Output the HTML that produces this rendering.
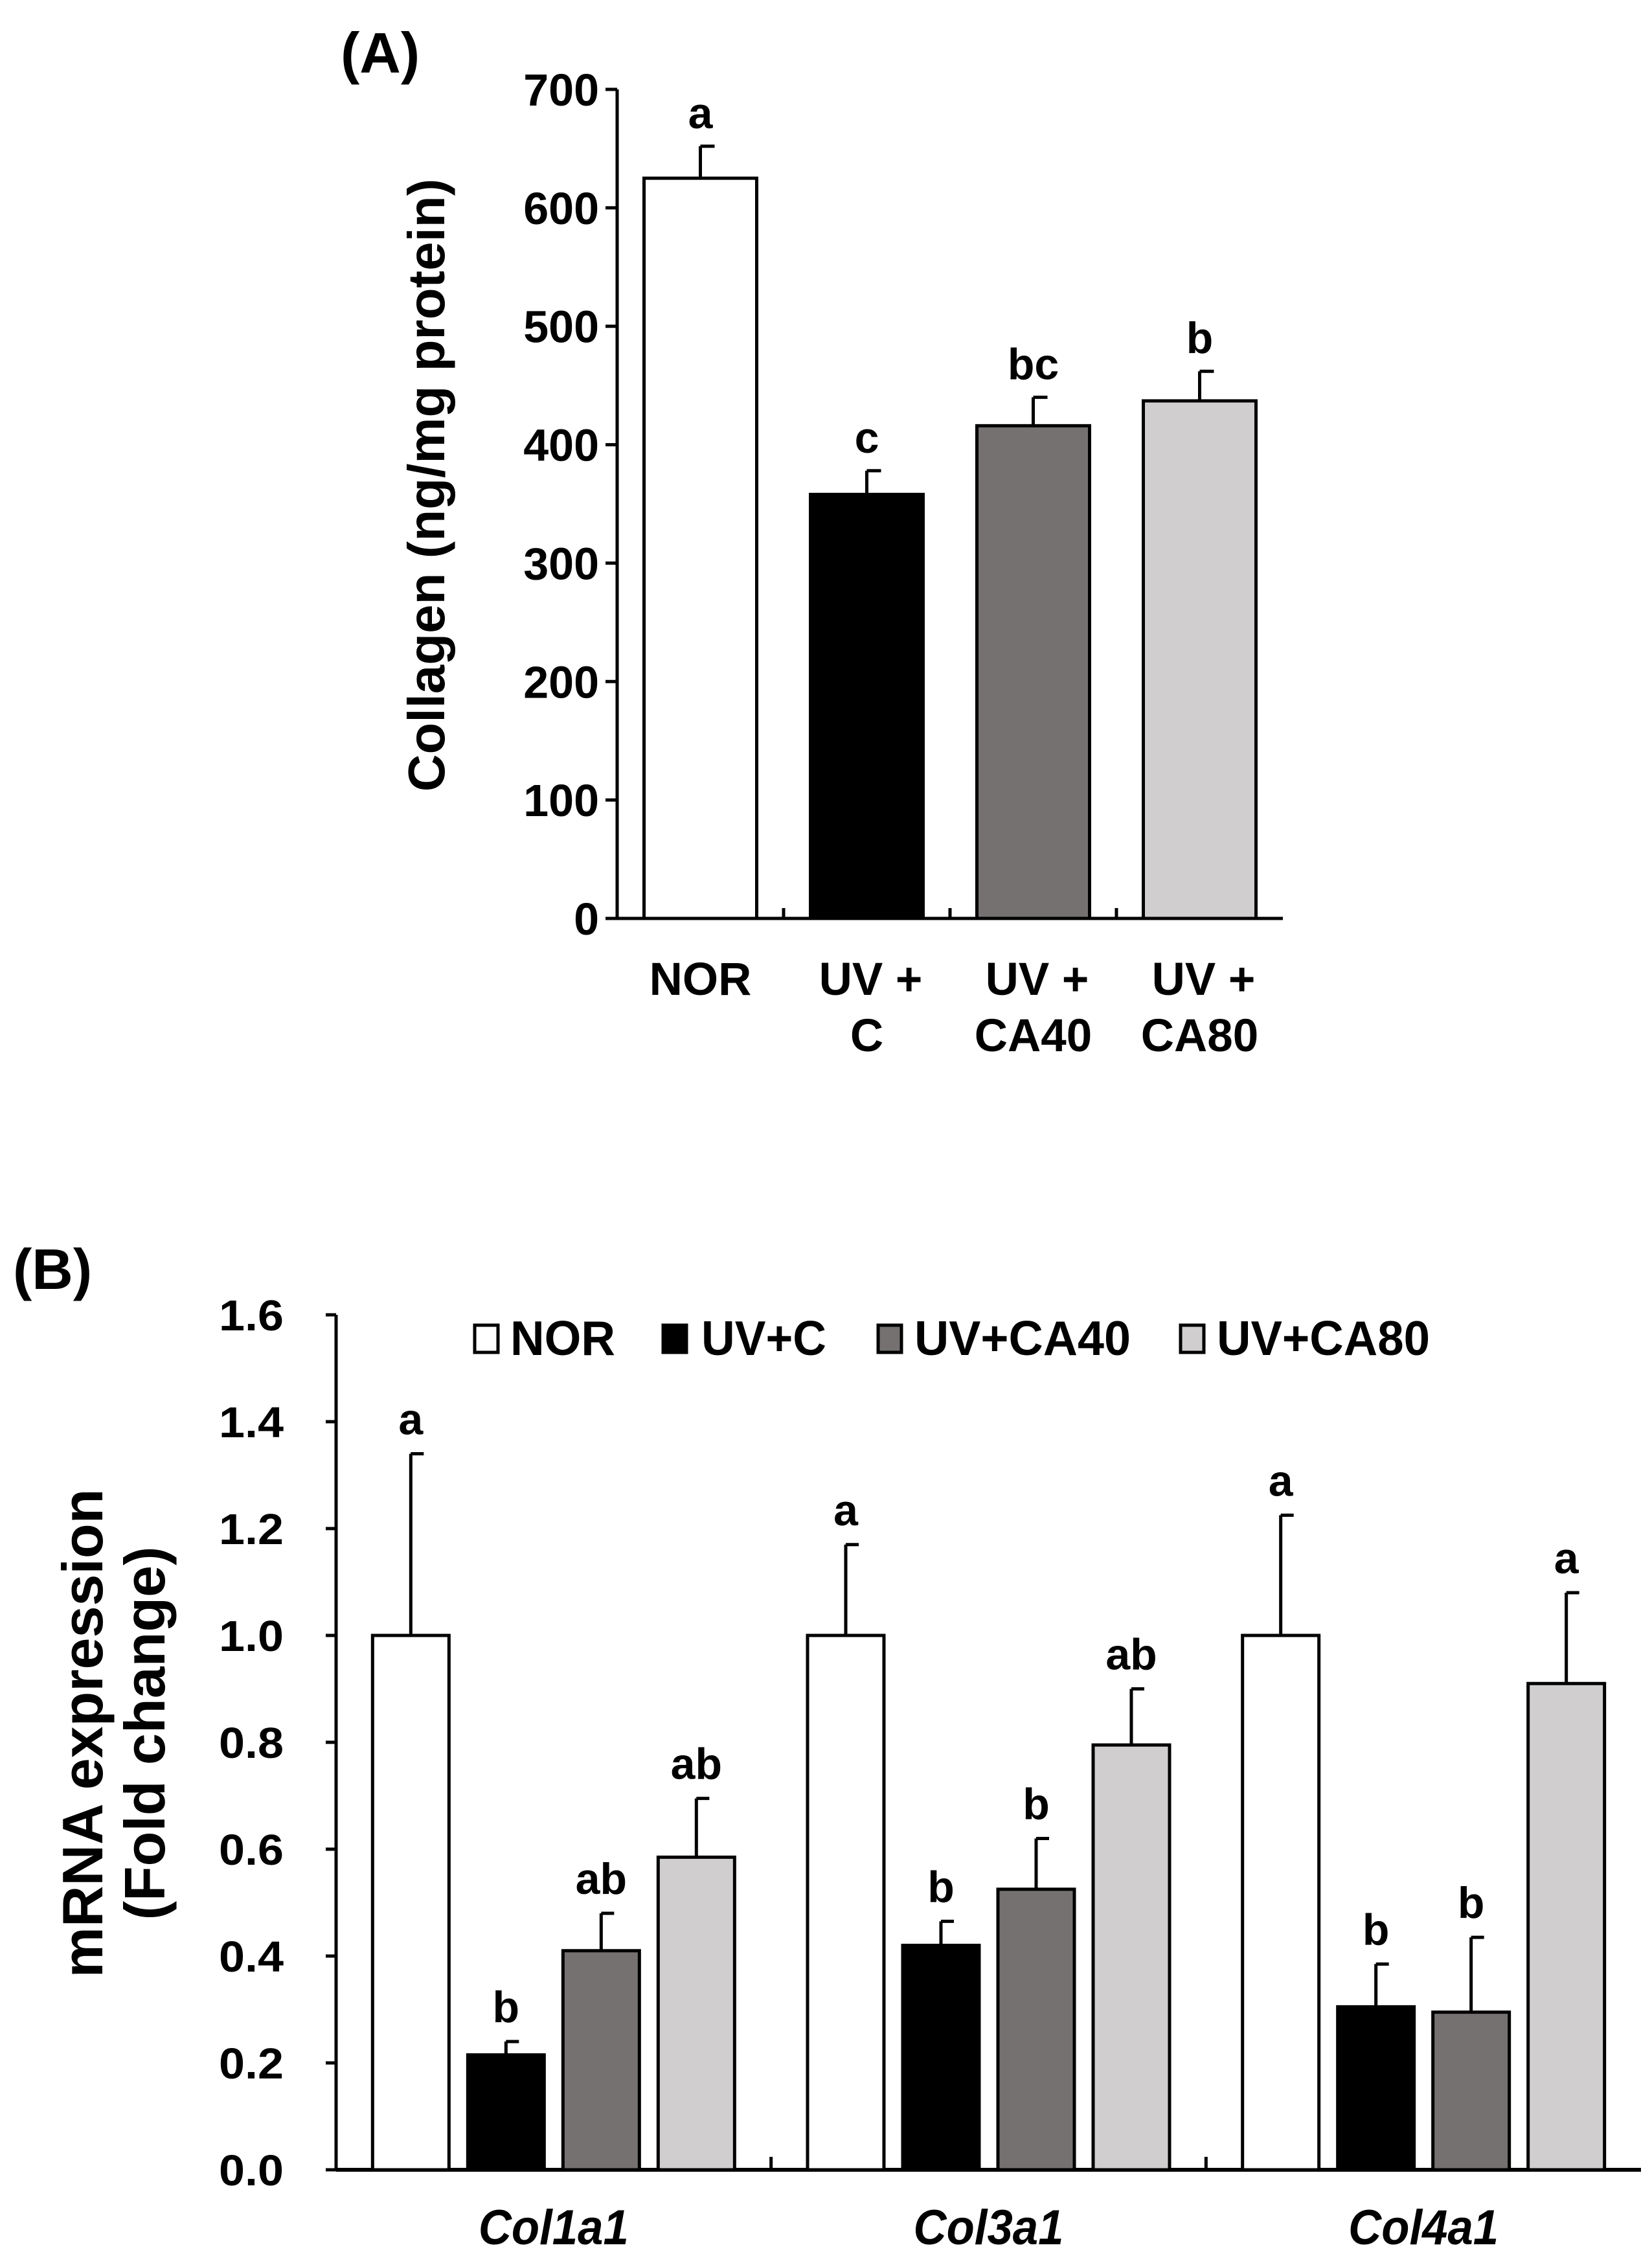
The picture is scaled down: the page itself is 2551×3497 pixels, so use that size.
<!DOCTYPE html>
<html><head><meta charset="utf-8"><style>
html,body{margin:0;padding:0;background:#fff}
svg{display:block;font-family:"Liberation Sans",Arial,sans-serif;font-weight:bold}
</style></head><body>
<svg id="fig" width="2551" height="3497" viewBox="0 0 2551 3497" xmlns="http://www.w3.org/2000/svg">
<g id="pa"></g>
<g id="pb"></g>
</svg>
<script>
// Panel A data
const catsA = ["NOR","UV + C","UV + CA40","UV + CA80"];
const valsA = [625, 358, 416, 437];
const errA = [27, 20, 24, 25];
const lettersA = ["a","c","bc","b"];
const ticksA = [0,100,200,300,400,500,600,700];
// Panel B data
const genesB = ["Col1a1","Col3a1","Col4a1"];
const seriesB = ["NOR","UV+C","UV+CA40","UV+CA80"];
const valsNOR = [1.0, 1.0, 1.0];
const valsC = [0.215, 0.42, 0.305];
const valsCA40 = [0.41, 0.525, 0.295];
const valsCA80 = [0.585, 0.795, 0.91];
const errNOR = [0.34, 0.17, 0.225];
const errC = [0.025, 0.045, 0.08];
const errCA40 = [0.07, 0.095, 0.14];
const errCA80 = [0.11, 0.105, 0.17];
const lettersB = [["a","b","ab","ab"],["a","b","b","ab"],["a","b","b","a"]];
const ticksB = ["0.0","0.2","0.4","0.6","0.8","1.0","1.2","1.4","1.6"];

const NS="http://www.w3.org/2000/svg";
const fills=["#ffffff","#000000","#757171","#d0cecf"];
function mk(parent,tag,attrs,text){const e=document.createElementNS(NS,tag);for(const k in attrs)e.setAttribute(k,attrs[k]);if(text!==undefined)e.textContent=text;parent.appendChild(e);return e;}

// ---------- Panel A ----------
const pa=document.getElementById('pa');
const ax0=953, ax1=1981, ay0=1418, ay1=138, amax=700;
const yA=v=>ay0-(v/amax)*(ay0-ay1);
let t=mk(pa,'text',{x:526,y:112,'font-size':88});t.textContent='(A)';


let l=mk(pa,'line',{x1:ax0,y1:ay1,x2:ax0,y2:ay0,stroke:'#000','stroke-width':5});


l=mk(pa,'line',{x1:ax0,y1:ay0,x2:ax1,y2:ay0,stroke:'#000','stroke-width':5});


ticksA.forEach(v=>{
  const tk=mk(pa,'line',{x1:ax0-18,y1:yA(v),x2:ax0,y2:yA(v),stroke:'#000','stroke-width':5});
  
  
  const tl=mk(pa,'text',{x:925,y:yA(v)+25,'font-size':70,'text-anchor':'end'},String(v));
  
  
});
t=mk(pa,'text',{x:0,y:0,'font-size':80,'text-anchor':'middle',transform:'translate(686,749) rotate(-90)'},'Collagen (ng/mg protein)');


const slotA=(ax1-ax0)/4, bwA=174;
for(let i=1;i<4;i++){const tk=mk(pa,'line',{x1:ax0+slotA*i,y1:ay0-16,x2:ax0+slotA*i,y2:ay0,stroke:'#000','stroke-width':5});
  
  }
catsA.forEach((c,i)=>{
  const cx=ax0+slotA*(i+0.5);
  const top=yA(valsA[i]+errA[i]);
  const e=mk(pa,'path',{d:`M${cx} ${yA(valsA[i])}V${top}M${cx} ${top}H${cx+22}`,stroke:'#000','stroke-width':5,fill:'none'});
  
  
  const r=mk(pa,'rect',{x:cx-bwA/2,y:yA(valsA[i]),width:bwA,height:ay0-yA(valsA[i]),fill:fills[i],stroke:'#000','stroke-width':5});
  
  
  const lt=mk(pa,'text',{x:cx,y:top-28,'font-size':68,'text-anchor':'middle'},lettersA[i]);
  
  
  const parts=c==="NOR"?["NOR"]:["UV +",c.replace("UV + ","")];
  parts.forEach((p,j)=>{const xl=mk(pa,'text',{x:cx+(j===0&&parts.length>1?6:0),y:1536+j*87,'font-size':71,'text-anchor':'middle'},p);
    
    });
});

// ---------- Panel B ----------
const pb=document.getElementById('pb');
const bx0=519, bx1=2534, by0=3350, by1=2030, bmax=1.6;
const yB=v=>by0-(v/bmax)*(by0-by1);
t=mk(pb,'text',{x:20,y:1990,'font-size':88},'(B)');


l=mk(pb,'line',{x1:bx0,y1:by1,x2:bx0,y2:by0,stroke:'#000','stroke-width':5});


l=mk(pb,'line',{x1:bx0,y1:by0,x2:bx1,y2:by0,stroke:'#000','stroke-width':6});


ticksB.forEach(s=>{
  const v=parseFloat(s);
  const tk=mk(pb,'line',{x1:bx0-16,y1:yB(v),x2:bx0,y2:yB(v),stroke:'#000','stroke-width':5});
  
  
  const tl=mk(pb,'text',{x:438,y:yB(v)+24,'font-size':67,'text-anchor':'end',textLength:100,lengthAdjust:'spacingAndGlyphs'},s);
  
  
});
t=mk(pb,'text',{x:0,y:0,'font-size':88,'text-anchor':'middle',transform:'translate(158,2676) rotate(-90)'},'mRNA expression');


t=mk(pb,'text',{x:0,y:0,'font-size':88,'text-anchor':'middle',transform:'translate(254,2676) rotate(-90)'},'(Fold change)');


const slotB=(bx1-bx0)/3, bwB=118, stepB=147;
for(let g=1;g<3;g++){const tk=mk(pb,'line',{x1:bx0+slotB*g,y1:by0-20,x2:bx0+slotB*g,y2:by0,stroke:'#000','stroke-width':5});
  
  }
const allVals=[valsNOR,valsC,valsCA40,valsCA80], allErr=[errNOR,errC,errCA40,errCA80];
genesB.forEach((gname,g)=>{
  const gc=bx0+slotB*(g+0.5);
  for(let s=0;s<4;s++){
    const cx=gc+(s-1.5)*stepB;
    const v=allVals[s][g], top=yB(v+allErr[s][g]);
    const e=mk(pb,'path',{d:`M${cx} ${yB(v)}V${top}M${cx} ${top}H${cx+20}`,stroke:'#000','stroke-width':5,fill:'none'});
    
    
    const r=mk(pb,'rect',{x:cx-bwB/2,y:yB(v),width:bwB,height:by0-yB(v),fill:fills[s],stroke:'#000','stroke-width':5});
    
    
    const lt=mk(pb,'text',{x:cx,y:top-30,'font-size':68,'text-anchor':'middle'},lettersB[g][s]);
    
    
  }
  const xl=mk(pb,'text',{x:gc,y:3465,'font-size':76,'font-style':'italic','text-anchor':'middle',textLength:232,lengthAdjust:'spacingAndGlyphs'},gname);
  
  
});
// legend
const legX=[731,1022,1354,1821], legT=[788,1083,1412,1879], legW=[162,193,334,329];
seriesB.forEach((s,i)=>{
  const r=mk(pb,'rect',{x:legX[i]+2,y:2046,width:36,height:42,fill:fills[i],stroke:'#000','stroke-width':5});
  
  
  const tx=mk(pb,'text',{x:legT[i],y:2092,'font-size':75,textLength:legW[i],lengthAdjust:'spacingAndGlyphs'},s);
  
  
});
</script>
</body></html>
